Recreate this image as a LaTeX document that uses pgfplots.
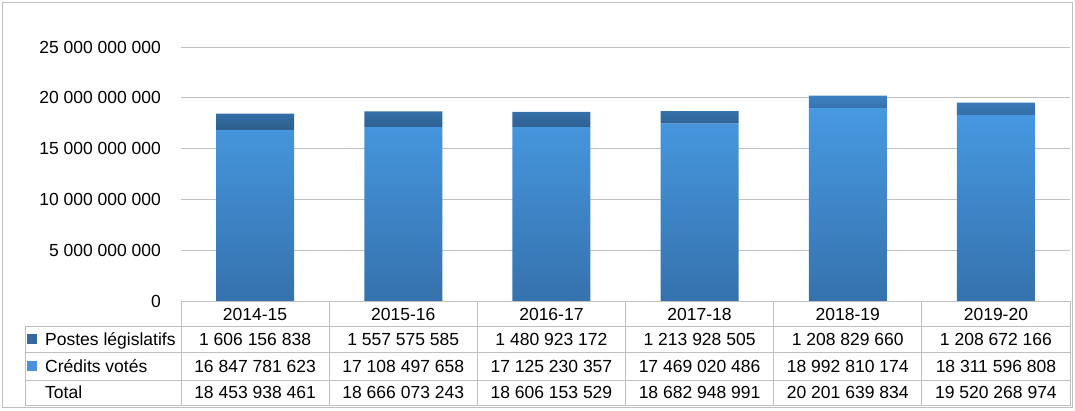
\documentclass[border=0pt]{standalone}
\usepackage{pgfplots}
\pgfplotsset{compat=1.18}
\usepackage{pgfplotstable}
\usepackage{fontspec}
\setmainfont{Liberation Sans}
\definecolor{gridc}{HTML}{BFBFBF}
\definecolor{credtop}{HTML}{4799E2}
\definecolor{credbot}{HTML}{3572AD}
\definecolor{posttop}{HTML}{3C80C2}
\definecolor{postbot}{HTML}{2C5E8D}
\definecolor{legpost}{HTML}{3568A0}
\definecolor{legcred}{HTML}{4A92DA}

\pgfplotstableread{
x credits postes
0 16847781623 1606156838
1 17108497658 1557575585
2 17125230357 1480923172
3 17469020486 1213928505
4 18992810174 1208829660
5 18311596808 1208672166
}\budget

\begin{document}
\fontsize{17.5}{21}\selectfont
\begin{tikzpicture}[cell/.style={text height=12.6pt, text depth=0pt, inner sep=0pt, font=\fontsize{17.5}{21}\selectfont}]
\begin{axis}[
  width=889pt, height=254pt, scale only axis,
  xmin=-0.5, xmax=5.5, ymin=0, ymax=25e9,
  ybar stacked, bar width=78pt,
  ytick={0,5e9,10e9,15e9,20e9,25e9},
  yticklabels={0,5 000 000 000,10 000 000 000,15 000 000 000,20 000 000 000,25 000 000 000},
  xtick={0,1,2,3,4,5},
  xticklabels={2014-15,2015-16,2016-17,2017-18,2018-19,2019-20},
  xticklabel style={anchor=center, yshift=-13pt, text height=12.6pt, text depth=0pt, inner sep=0pt},
  yticklabel style={xshift=-14pt},
  major tick length=0pt,
  tick style={draw=none},
  ymajorgrids, grid style={gridc, line width=0.8pt},
  axis line style={draw=none},
  scaled y ticks=false,
  clip=false,
  /pgf/number format/assume math mode=true,
  ticklabel style={font=\fontsize{17.5}{21}\selectfont},
]
\addplot[draw=none, top color=credtop, bottom color=credbot] table[x=x, y=credits]{\budget};
\addplot[draw=none, top color=posttop, bottom color=postbot] table[x=x, y=postes]{\budget};
\coordinate (O) at (axis cs:-0.5,0);
\end{axis}
% bounding area and outer frame
\path ([shift={(-181pt,-110pt)}]O) rectangle ([shift={(894pt,301pt)}]O);
\draw[gridc, line width=0.8pt] ([shift={(-179pt,-106pt)}]O) rectangle ([shift={(891pt,299pt)}]O);
% table lines
\draw[gridc, line width=0.8pt] (O) -- ([xshift=889pt]O);
\foreach \d in {25,51.7,79,104.7}{
  \draw[gridc, line width=0.8pt] ([shift={(-156pt,-\d pt)}]O) -- ([shift={(889pt,-\d pt)}]O);
}
\foreach \i in {0,...,6}{
  \draw[gridc, line width=0.8pt] ([xshift={148.1667pt*\i}]O) -- ([shift={({148.1667pt*\i},-104.7pt)}]O);
}
\draw[gridc, line width=0.8pt] ([shift={(-156pt,-25pt)}]O) -- ([shift={(-156pt,-104.7pt)}]O);
% row labels
\fill[legpost] ([shift={(-154pt,-43pt)}]O) rectangle ([shift={(-144pt,-33pt)}]O);
\fill[legcred] ([shift={(-154pt,-70pt)}]O) rectangle ([shift={(-144pt,-60pt)}]O);
\node[cell, anchor=west] at ([shift={(-136pt,-38pt)}]O) {Postes législatifs};
\node[cell, anchor=west] at ([shift={(-136pt,-65pt)}]O) {Crédits votés};
\node[cell, anchor=west] at ([shift={(-136pt,-91.5pt)}]O) {Total};
% table values
\foreach \i/\a/\b/\c in {
  0/1 606 156 838/16 847 781 623/18 453 938 461,
  1/1 557 575 585/17 108 497 658/18 666 073 243,
  2/1 480 923 172/17 125 230 357/18 606 153 529,
  3/1 213 928 505/17 469 020 486/18 682 948 991,
  4/1 208 829 660/18 992 810 174/20 201 639 834,
  5/1 208 672 166/18 311 596 808/19 520 268 974}{
  \node[cell] at ([shift={({74.083pt+148.1667pt*\i},-38pt)}]O) {\a};
  \node[cell] at ([shift={({74.083pt+148.1667pt*\i},-65pt)}]O) {\b};
  \node[cell] at ([shift={({74.083pt+148.1667pt*\i},-91.5pt)}]O) {\c};
}
\end{tikzpicture}
\end{document}
